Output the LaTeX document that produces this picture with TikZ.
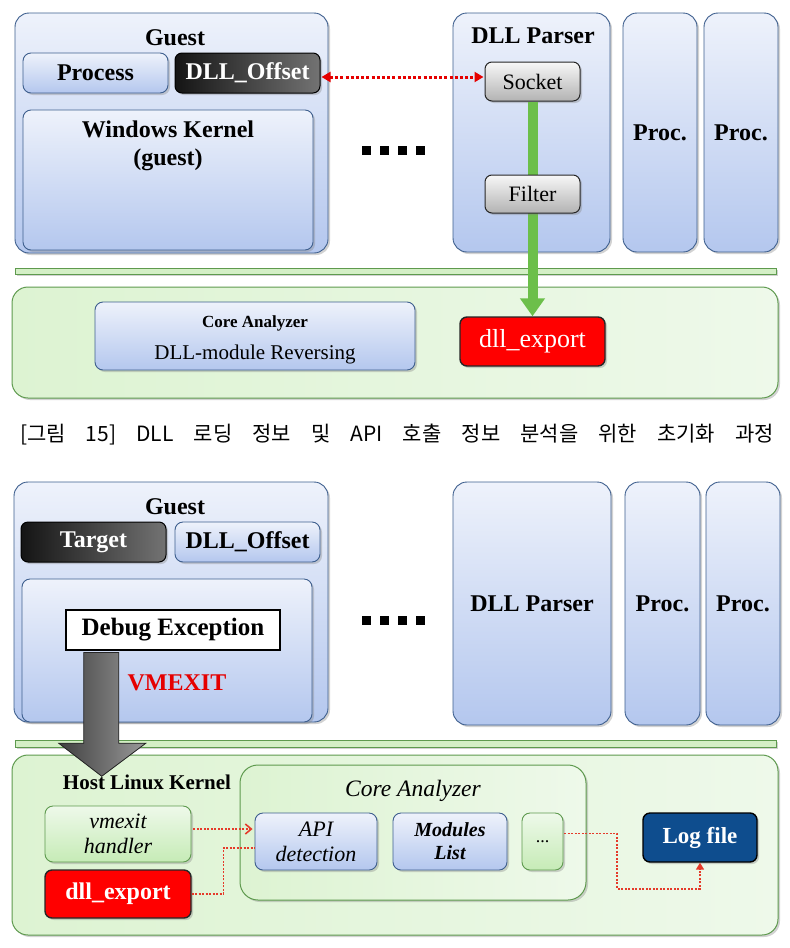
\documentclass[tikz,border=0pt]{standalone}
\usepackage{fontspec}
\setmainfont{Liberation Serif}
\newfontfamily\krfont{Noto Sans CJK KR}
\usetikzlibrary{shadows,arrows.meta,calc}
\definecolor{blueTop}{HTML}{EEF2FB}
\definecolor{blueBot}{HTML}{B4C7EE}
\definecolor{blueBorder}{HTML}{3E5F8E}
\definecolor{greenA}{HTML}{DDF3D2}
\definecolor{greenB}{HTML}{C6EBB6}
\definecolor{greenC}{HTML}{EEF9EA}
\definecolor{greenBorder}{HTML}{5E9A4E}
\definecolor{sepGreen}{HTML}{D4EFC6}
\definecolor{arrowGreen}{HTML}{6CBF4A}
\definecolor{dotRed}{HTML}{E53A2A}
\definecolor{logBlue}{HTML}{0E4D8E}
% style, name, x1, y1, x2, y2, text
\newcommand{\mybox}[7]{\node[#1, minimum width={(#5)-(#3)}, minimum height={(#6)-(#4)}] (#2) at ({((#3)+(#5))/2},{((#4)+(#6))/2}) {#7};}
\begin{document}
\begin{tikzpicture}[x=1pt,y=-1pt,
  shad/.style={drop shadow={opacity=0.35,shadow xshift=2pt,shadow yshift=-2pt}},
  bluepanel/.style={rounded corners=14pt, draw=blueBorder, line width=0.9pt, top color=blueTop, bottom color=blueBot, shad, inner sep=0pt},
  bluebox/.style={rounded corners=8pt, draw=blueBorder, line width=0.9pt, top color=blueTop, bottom color=blueBot, shad, inner sep=0pt},
  greenpanel/.style={rounded corners=16pt, draw=greenBorder, line width=1pt, left color=greenA, middle color=greenB, right color=greenC, shad, inner sep=0pt},
  greenbox/.style={rounded corners=8pt, draw=greenBorder, line width=0.9pt, top color=greenC, bottom color=greenB, shad, inner sep=0pt},
  redbox/.style={rounded corners=7pt, draw=black!85, line width=1.4pt, fill=red, text=white, shad, inner sep=0pt},
  darkbox/.style={rounded corners=7pt, draw=black, line width=1pt, left color=black!92, right color=black!55, text=white, shad, inner sep=0pt},
  graybox/.style={rounded corners=7pt, draw=black!85, line width=1pt, top color=black!3, bottom color=black!30, shad, inner sep=0pt},
  logbox/.style={rounded corners=7pt, draw=black, line width=1.4pt, fill=logBlue, text=white, shad, inner sep=0pt},
  sepbar/.style={draw=greenBorder, line width=0.9pt, fill=sepGreen, shad, inner sep=0pt},
  whitebox/.style={draw=black, line width=2.5pt, fill=white, inner sep=0pt},
  fb/.style={font=\fontsize{24}{28}\selectfont\bfseries},
  fr/.style={font=\fontsize{22}{27}\selectfont},
  fi/.style={font=\fontsize{22}{25}\selectfont\itshape, align=center},
  fbi/.style={font=\fontsize{20}{23}\selectfont\bfseries\itshape, align=center},
  reddot/.style={draw=dotRed, line width=1.6pt, dash pattern=on 2pt off 1.5pt},
  sq/.style={fill=black}
]
\useasboundingbox[fill=white] (0,0) rectangle (790,948);

%================ TOP ================
\mybox{bluepanel}{guestA}{15}{13}{328}{253}{}
\node[fb] (guestAt) at (175,38) {Guest};
\mybox{bluebox,fb}{procA}{23}{53}{168}{93}{Process}
\mybox{darkbox,fb}{dllofsA}{175}{53}{320}{93}{DLL\_Offset}
\mybox{bluebox}{winkA}{23}{110}{313}{250}{}
\node[fb, align=center] (winkAt) at (168,146) {Windows Kernel\\(guest)};

\foreach \i in {0,1,2,3} {\fill[sq] (362+18*\i,146) rectangle ++(9,9);}

\mybox{bluepanel}{parserA}{453}{13}{610}{252}{}
\node[fb] (parserAt) at (533,36) {DLL Parser};
\mybox{bluepanel,fb}{procA1}{623}{13}{697}{252}{Proc.}
\mybox{bluepanel,fb}{procA2}{704}{13}{778}{252}{Proc.}

\mybox{sepbar}{sepA}{15}{268}{776}{274}{}
\mybox{greenpanel}{coreA}{12}{287}{778}{398}{}
\mybox{bluebox}{caA}{95}{302}{415}{370}{}
\node[font=\fontsize{17}{20}\selectfont\bfseries] (caAt1) at (255,323) {Core Analyzer};
\node[font=\fontsize{21}{24}\selectfont] (caAt2) at (255,354) {DLL-module Reversing};
\mybox{redbox,font=\fontsize{26}{30}\selectfont}{dllexpA}{460}{317}{605}{366}{dll\_export}

\mybox{graybox,fr}{socket}{485}{62}{580}{101}{Socket}
\draw[draw=arrowGreen, line width=10pt, -{Triangle[width=24pt,length=18pt]}] (socket.south) -- (dllexpA.north);
\mybox{graybox,fr}{filter}{485}{175}{580}{213}{Filter}

\draw[draw=red!90!black, line width=3pt, dash pattern=on 3pt off 2.2pt,
  {Triangle[width=10pt,length=9pt]}-{Triangle[width=10pt,length=9pt]}]
  ($(dllofsA.east)+(1,4)$) -- ($(dllofsA.east -| socket.west)+(-1,4)$);

%================ CAPTION ================
\node[font=\krfont\fontsize{21}{24}\selectfont, inner sep=0pt] (cap) at (397,435)
  {\makebox[754pt][s]{[그림 15] DLL 로딩 정보 및 API 호출 정보 분석을 위한 초기화 과정}};

%================ BOTTOM ================
\mybox{bluepanel}{guestB}{14}{482}{328}{722}{}
\node[fb] (guestBt) at (175,507) {Guest};
\mybox{darkbox,fb}{targetB}{21}{522}{166}{562}{Target}
\mybox{bluebox,fb}{dllofsB}{175}{522}{320}{562}{DLL\_Offset}
\mybox{bluebox}{kernB}{22}{579}{312}{722}{}
\node[font=\fontsize{24}{28}\selectfont\bfseries, text=red!90!black] (vmexit) at (177,683) {VMEXIT};

\foreach \i in {0,1,2,3} {\fill[sq] (362+18*\i,616) rectangle ++(9,9);}

\mybox{bluepanel,fb}{parserB}{453}{482}{611}{725}{DLL Parser}
\mybox{bluepanel,fb}{procB1}{625}{482}{700}{725}{Proc.}
\mybox{bluepanel,fb}{procB2}{706}{482}{780}{725}{Proc.}

\mybox{sepbar}{sepB}{15}{740}{776}{747}{}
\mybox{greenpanel}{coreB}{12}{755}{778}{935}{}
\node[font=\fontsize{21}{24}\selectfont\bfseries] (hostt) at (147,782) {Host Linux Kernel};
\mybox{greenpanel,rounded corners=18pt}{caB}{240}{765}{586}{900}{}
\node[font=\fontsize{23.5}{27}\selectfont\itshape] (caBt) at (413,791) {Core Analyzer};
\mybox{greenbox,fi}{vmh}{45}{806}{191}{862}{vmexit\\handler}
\mybox{redbox,font=\fontsize{24}{28}\selectfont\bfseries}{dllexpB}{45}{870}{191}{918}{dll\_export}
\mybox{bluebox,fi}{api}{255}{813}{377}{870}{API\\detection}
\mybox{bluebox,fbi}{mods}{393}{813}{507}{870}{Modules\\List}
\mybox{greenbox,font=\fontsize{18}{20}\selectfont}{etc}{522}{813}{563}{870}{...}
\mybox{logbox,font=\fontsize{23}{27}\selectfont\bfseries}{logf}{643}{813}{757}{862}{Log file}

\draw[reddot, -{Straight Barb[length=6pt,width=10pt]}] ($(vmh.east)+(2,-5)$) -- ($(vmh.east -| api.west)+(-2,-5)$);
\draw[reddot] (dllexpB.east) -| ($(api.west)+(-31,6.5)$) -- ($(api.west)+(0,6.5)$);
\draw[reddot, -{Triangle[length=7pt,width=8pt]}] ($(etc.east)+(1,-8)$) -| ($(logf.south)+(-83,26)$) -| (logf.south);

% Debug exception and big arrow
\mybox{whitebox,font=\fontsize{25}{29}\selectfont\bfseries}{dbg}{66}{610}{280}{650}{Debug Exception}
\coordinate (gtip) at ($(dbg.south west)+(37,125)$);
\filldraw[draw=black!85, line width=0.8pt, left color=black!75, right color=black!40]
  ($(dbg.south west)+(19,1.3)$) -- ($(dbg.south west)+(19,92)$) -- ($(dbg.south west)+(-6,92)$)
  -- (gtip) -- ($(dbg.south west)+(81,92)$) -- ($(dbg.south west)+(54,92)$) -- ($(dbg.south west)+(54,1.3)$) -- cycle;
\end{tikzpicture}
\end{document}
